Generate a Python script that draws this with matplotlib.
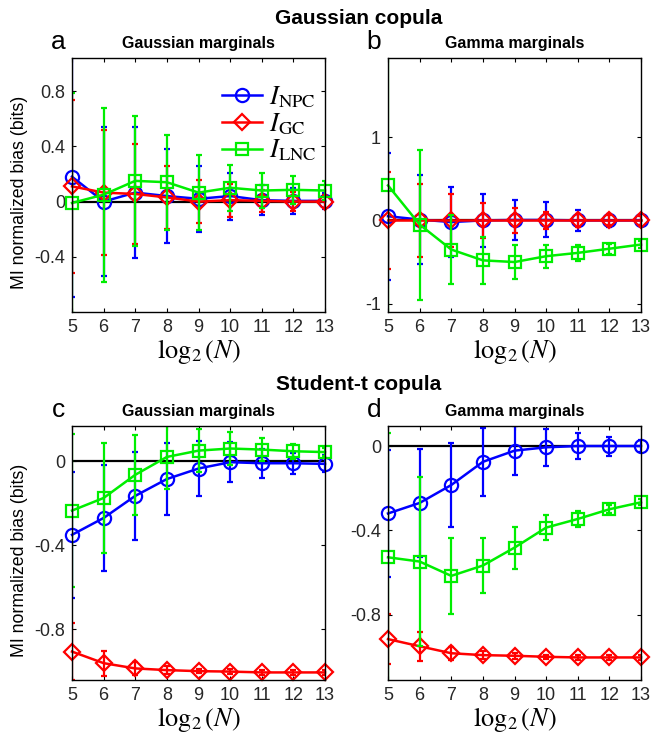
import matplotlib
matplotlib.use("Agg")
import matplotlib.pyplot as plt
import numpy as np

plt.rcParams['font.family'] = ['Liberation Sans', 'DejaVu Sans']
plt.rcParams['mathtext.fontset'] = 'stix'

log2N = [5, 6, 7, 8, 9, 10, 11, 12, 13]
series_labels = [r'$I_{\rm NPC}$', r'$I_{\rm GC}$', r'$I_{\rm LNC}$']

# Panel a: Gaussian copula, Gaussian marginals
a_npc = [0.18, 0.0, 0.065, 0.04, 0.02, 0.04, 0.01, 0.005, 0.005]
a_npc_err = [0.87, 0.54, 0.475, 0.34, 0.24, 0.17, 0.11, 0.095, 0.06]
a_gc = [0.11, 0.065, 0.055, 0.03, 0.0, 0.01, 0.005, 0.0, 0.0]
a_gc_err = [0.625, 0.45, 0.36, 0.23, 0.155, 0.12, 0.08, 0.07, 0.05]
a_lnc = [-0.01, 0.05, 0.15, 0.14, 0.065, 0.10, 0.08, 0.085, 0.08]
a_lnc_err = [0.8, 0.63, 0.47, 0.345, 0.27, 0.165, 0.13, 0.10, 0.07]

# Panel b: Gaussian copula, Gamma marginals
b_npc = [0.05, 0.01, -0.02, 0.0, 0.005, 0.005, 0.0, 0.0, 0.0]
b_npc_err = [0.76, 0.53, 0.42, 0.32, 0.245, 0.21, 0.13, 0.08, 0.06]
b_gc = [0.0, 0.0, 0.0, 0.0, 0.0, 0.0, 0.0, 0.0, 0.0]
b_gc_err = [0.58, 0.44, 0.32, 0.21, 0.15, 0.10, 0.08, 0.06, 0.05]
b_lnc = [0.42, -0.05, -0.35, -0.48, -0.50, -0.43, -0.39, -0.34, -0.29]
b_lnc_err = [1.6, 0.9, 0.41, 0.28, 0.2, 0.14, 0.095, 0.06, 0.04]

# Panel c: Student-t copula, Gaussian marginals
c_npc = [-0.35, -0.27, -0.165, -0.085, -0.035, -0.005, -0.01, -0.01, -0.013]
c_npc_err = [0.30, 0.25, 0.21, 0.17, 0.13, 0.095, 0.068, 0.05, 0.04]
c_gc = [-0.905, -0.96, -0.985, -0.993, -0.998, -1.0, -1.004, -1.004, -1.004]
c_gc_err = [0.135, 0.06, 0.03, 0.02, 0.01, 0.01, 0.01, 0.01, 0.01]
c_lnc = [-0.235, -0.175, -0.065, 0.02, 0.05, 0.06, 0.055, 0.047, 0.043]
c_lnc_err = [0.365, 0.26, 0.19, 0.15, 0.103, 0.08, 0.055, 0.035, 0.02]

# Panel d: Student-t copula, Gamma marginals
d_npc = [-0.32, -0.27, -0.185, -0.075, -0.022, -0.006, 0.0, 0.0, 0.0]
d_npc_err = [0.30, 0.255, 0.2, 0.16, 0.116, 0.088, 0.06, 0.045, 0.03]
d_gc = [-0.916, -0.95, -0.983, -0.992, -0.995, -1.0, -1.003, -1.003, -1.003]
d_gc_err = [0.117, 0.07, 0.03, 0.02, 0.015, 0.01, 0.01, 0.01, 0.01]
d_lnc = [-0.528, -0.548, -0.616, -0.567, -0.482, -0.387, -0.346, -0.30, -0.267]
d_lnc_err = [0.59, 0.40, 0.18, 0.13, 0.10, 0.058, 0.04, 0.02, 0.015]

panels = [
    dict(letter='a', sub='Gaussian marginals', npc=a_npc, npce=a_npc_err, gc=a_gc, gce=a_gc_err,
         lnc=a_lnc, lnce=a_lnc_err, ylim=(-0.8, 1.04), yticks=[-0.4, 0, 0.4, 0.8],
         yticklabels=['-0.4', '0', '0.4', '0.8'], ylabel=True, legend=True),
    dict(letter='b', sub='Gamma marginals', npc=b_npc, npce=b_npc_err, gc=b_gc, gce=b_gc_err,
         lnc=b_lnc, lnce=b_lnc_err, ylim=(-1.1, 1.95), yticks=[-1, 0, 1],
         yticklabels=['-1', '0', '1'], ylabel=False, legend=False),
    dict(letter='c', sub='Gaussian marginals', npc=c_npc, npce=c_npc_err, gc=c_gc, gce=c_gc_err,
         lnc=c_lnc, lnce=c_lnc_err, ylim=(-1.04, 0.167), yticks=[-0.8, -0.4, 0],
         yticklabels=['-0.8', '-0.4', '0'], ylabel=True, legend=False),
    dict(letter='d', sub='Gamma marginals', npc=d_npc, npce=d_npc_err, gc=d_gc, gce=d_gc_err,
         lnc=d_lnc, lnce=d_lnc_err, ylim=(-1.11, 0.095), yticks=[-0.8, -0.4, 0],
         yticklabels=['-0.8', '-0.4', '0'], ylabel=False, legend=False),
]

W, H = 664, 736
fig = plt.figure(figsize=(W / 100, H / 100), dpi=100)

rects = [(72, 58, 325, 312), (388, 58, 641, 312), (72, 426, 325, 680), (388, 426, 641, 680)]

colors = ['#0000ff', '#ff0000', '#00ee00']
markers = ['o', 'D', 's']
msizes = [9.5, 8.5, 8.5]

for p, (l, t, r, b) in zip(panels, rects):
    ax = fig.add_axes([l / W, 1 - b / H, (r - l) / W, (b - t) / H])
    ax.plot([log2N[0], log2N[-1]], [0, 0], color='black', lw=1.6, zorder=1)
    handles = []
    z = 2
    for (y, e), c, m, ms, lab in zip([(p['npc'], p['npce']), (p['gc'], p['gce']), (p['lnc'], p['lnce'])],
                                      colors, markers, msizes, series_labels):
        ax.errorbar(log2N, y, yerr=e, fmt='none', ecolor=c, elinewidth=1.6,
                    capsize=2.5, capthick=1.6, zorder=z)
        h, = ax.plot(log2N, y, color=c, marker=m, ms=ms, mfc='none', mec=c, mew=1.6,
                     lw=1.8, zorder=z + 0.5, clip_on=False)
        handles.append(h)
        z += 1
    ax.set_xlim(5, 13)
    ax.set_ylim(*p['ylim'])
    ax.set_xticks(log2N)
    ax.set_xticklabels([str(v) for v in log2N])
    ax.set_yticks(p['yticks'])
    ax.set_yticklabels(p['yticklabels'])
    ax.tick_params(direction='in', top=True, right=True, length=3, width=0.8,
                   labelsize=13, labelcolor='#262626', pad=5)
    for s in ax.spines.values():
        s.set_linewidth(1.0)
        s.set_zorder(10)
    ax.set_xlabel(r'$\log_2(N)$', fontsize=19)
    ax.xaxis.set_label_coords(0.5, -0.1)
    if p['ylabel']:
        ax.set_ylabel('MI normalized bias (bits)', fontsize=12.8)
        ax.yaxis.set_label_coords(-0.175, 0.47)
    ax.set_title(p['sub'], fontsize=11.5, fontweight='bold', pad=7)
    ax.text(-0.055, 1.015, p['letter'], transform=ax.transAxes, fontsize=19,
            ha='center', va='bottom')
    if p['legend']:
        ax.legend(handles, series_labels, loc='upper right', frameon=False,
                  fontsize=19, handlelength=1.5, labelspacing=0.05,
                  bbox_to_anchor=(1.03, 0.96), borderaxespad=0.2, handletextpad=0.3)

fig.text(0.54, 1 - 18 / H, 'Gaussian copula', ha='center', va='center',
         fontsize=15, fontweight='bold')
fig.text(0.54, 1 - 385 / H, 'Student-t copula', ha='center', va='center',
         fontsize=15, fontweight='bold')

fig.savefig('out.png', dpi=100)
